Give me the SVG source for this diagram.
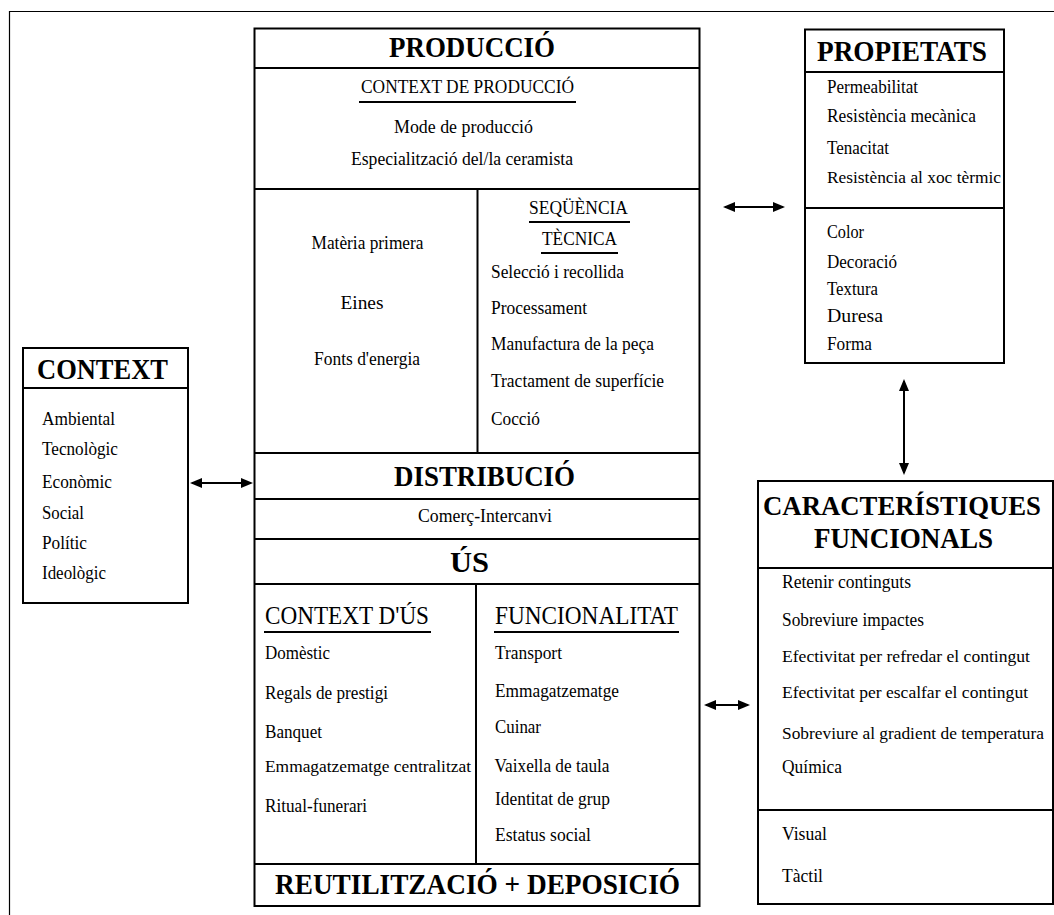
<svg xmlns="http://www.w3.org/2000/svg" width="1054" height="915" viewBox="0 0 1054 915">
<defs>
<style>
.box{fill:#fff;stroke:#000;stroke-width:2}
.ln{stroke:#000;stroke-width:2;fill:none}
.frame{stroke:#000;stroke-width:1.2;fill:none}
.h{font-family:"Liberation Serif","Times New Roman",serif;font-weight:bold;font-size:30px;fill:#000}
.t{font-family:"Liberation Serif","Times New Roman",serif;font-size:18.5px;fill:#000}
.n{font-family:"Liberation Serif","Times New Roman",serif;font-size:17.5px;fill:#000}
.s{font-family:"Liberation Serif","Times New Roman",serif;font-size:19px;fill:#000}
.m{font-family:"Liberation Serif","Times New Roman",serif;font-size:25px;fill:#000}
.conn{stroke:#000;stroke-width:2;fill:none;marker-start:url(#ah);marker-end:url(#ah)}
</style>
<marker id="ah" viewBox="0 0 12 10" refX="10" refY="5" markerWidth="12" markerHeight="10" markerUnits="userSpaceOnUse" orient="auto-start-reverse">
<path d="M0,0 L12,5 L0,10 z" fill="#000"/>
</marker>
</defs>
<rect width="1054" height="915" fill="#fff"/>
<path class="frame" d="M9.5,915 V11.5 H1054"/>

<g id="node-produccio">
<rect class="box" x="254.5" y="28.5" width="445" height="877.5"/>
<line class="ln" x1="254.5" y1="68" x2="699.5" y2="68"/>
<line class="ln" x1="254.5" y1="189" x2="699.5" y2="189"/>
<line class="ln" x1="477.5" y1="189" x2="477.5" y2="453"/>
<line class="ln" x1="254.5" y1="453" x2="699.5" y2="453"/>
<line class="ln" x1="254.5" y1="499" x2="699.5" y2="499"/>
<line class="ln" x1="254.5" y1="539" x2="699.5" y2="539"/>
<line class="ln" x1="254.5" y1="584" x2="699.5" y2="584"/>
<line class="ln" x1="476" y1="584" x2="476" y2="864"/>
<line class="ln" x1="254.5" y1="864" x2="699.5" y2="864"/>
<text class="h" x="389" y="57" textLength="166" lengthAdjust="spacingAndGlyphs">PRODUCCIÓ</text>
<text class="s" x="361" y="92.5" textLength="213" lengthAdjust="spacingAndGlyphs">CONTEXT DE PRODUCCIÓ</text>
<line class="ln" x1="359" y1="102" x2="576" y2="102"/>
<text class="t" x="394" y="132.5" textLength="139" lengthAdjust="spacingAndGlyphs">Mode de producció</text>
<text class="t" x="351" y="164.5" textLength="222" lengthAdjust="spacingAndGlyphs">Especialització del/la ceramista</text>
<text class="t" x="311.5" y="248.5" textLength="112" lengthAdjust="spacingAndGlyphs">Matèria primera</text>
<text class="t" x="340.5" y="309" textLength="43" lengthAdjust="spacingAndGlyphs">Eines</text>
<text class="t" x="314" y="365" textLength="106" lengthAdjust="spacingAndGlyphs">Fonts d'energia</text>
<text class="t" x="529" y="213.5" textLength="99" lengthAdjust="spacingAndGlyphs">SEQÜÈNCIA</text>
<line class="ln" x1="529" y1="222" x2="630" y2="222"/>
<text class="t" x="542" y="244.5" textLength="75" lengthAdjust="spacingAndGlyphs">TÈCNICA</text>
<line class="ln" x1="541" y1="253" x2="618" y2="253"/>
<text class="t" x="491" y="277.5" textLength="133" lengthAdjust="spacingAndGlyphs">Selecció i recollida</text>
<text class="t" x="491" y="313.5" textLength="96" lengthAdjust="spacingAndGlyphs">Processament</text>
<text class="t" x="491" y="350" textLength="163" lengthAdjust="spacingAndGlyphs">Manufactura de la peça</text>
<text class="t" x="491" y="386.5" textLength="173" lengthAdjust="spacingAndGlyphs">Tractament de superfície</text>
<text class="t" x="491" y="424.5" textLength="49" lengthAdjust="spacingAndGlyphs">Cocció</text>
<text class="h" x="394" y="486" textLength="181" lengthAdjust="spacingAndGlyphs">DISTRIBUCIÓ</text>
<text class="t" x="418" y="521.5" textLength="134" lengthAdjust="spacingAndGlyphs">Comerç-Intercanvi</text>
<text class="h" x="450" y="571.5" textLength="39" lengthAdjust="spacingAndGlyphs">ÚS</text>
<text class="m" x="265" y="623.5" textLength="164" lengthAdjust="spacingAndGlyphs">CONTEXT D'ÚS</text>
<line class="ln" x1="264" y1="632" x2="431" y2="632"/>
<text class="m" x="495" y="623.5" textLength="183" lengthAdjust="spacingAndGlyphs">FUNCIONALITAT</text>
<line class="ln" x1="494" y1="632" x2="679" y2="632"/>
<text class="t" x="265" y="658.5" textLength="65" lengthAdjust="spacingAndGlyphs">Domèstic</text>
<text class="t" x="265" y="699" textLength="123" lengthAdjust="spacingAndGlyphs">Regals de prestigi</text>
<text class="t" x="265" y="737.5" textLength="57" lengthAdjust="spacingAndGlyphs">Banquet</text>
<text class="n" x="265" y="771.5" textLength="206" lengthAdjust="spacingAndGlyphs">Emmagatzematge centralitzat</text>
<text class="t" x="265" y="811.5" textLength="102" lengthAdjust="spacingAndGlyphs">Ritual-funerari</text>
<text class="t" x="495" y="658.5" textLength="67" lengthAdjust="spacingAndGlyphs">Transport</text>
<text class="t" x="495" y="696.5" textLength="124" lengthAdjust="spacingAndGlyphs">Emmagatzematge</text>
<text class="t" x="495" y="732.5" textLength="46" lengthAdjust="spacingAndGlyphs">Cuinar</text>
<text class="t" x="494.5" y="771.5" textLength="115" lengthAdjust="spacingAndGlyphs">Vaixella de taula</text>
<text class="t" x="495" y="805" textLength="115" lengthAdjust="spacingAndGlyphs">Identitat de grup</text>
<text class="t" x="495" y="840.5" textLength="96" lengthAdjust="spacingAndGlyphs">Estatus social</text>
<text class="h" x="275" y="894" textLength="405" lengthAdjust="spacingAndGlyphs">REUTILITZACIÓ + DEPOSICIÓ</text>
</g>

<g id="node-propietats">
<rect class="box" x="805" y="29.5" width="199" height="333.5"/>
<line class="ln" x1="805" y1="72" x2="1004" y2="72"/>
<line class="ln" x1="805" y1="208" x2="1004" y2="208"/>
<text class="h" x="817" y="60.5" textLength="170" lengthAdjust="spacingAndGlyphs">PROPIETATS</text>
<text class="t" x="827" y="92.5" textLength="91" lengthAdjust="spacingAndGlyphs">Permeabilitat</text>
<text class="t" x="827" y="121.5" textLength="149" lengthAdjust="spacingAndGlyphs">Resistència mecànica</text>
<text class="t" x="827" y="154" textLength="62" lengthAdjust="spacingAndGlyphs">Tenacitat</text>
<text class="n" x="827" y="183" textLength="174" lengthAdjust="spacingAndGlyphs">Resistència al xoc tèrmic</text>
<text class="t" x="827" y="238" textLength="37" lengthAdjust="spacingAndGlyphs">Color</text>
<text class="t" x="827" y="268" textLength="70" lengthAdjust="spacingAndGlyphs">Decoració</text>
<text class="t" x="827" y="295" textLength="51" lengthAdjust="spacingAndGlyphs">Textura</text>
<text class="t" x="827" y="322" textLength="56" lengthAdjust="spacingAndGlyphs">Duresa</text>
<text class="t" x="827" y="349.5" textLength="45" lengthAdjust="spacingAndGlyphs">Forma</text>
</g>

<g id="node-context">
<rect class="box" x="23" y="348" width="165" height="255"/>
<line class="ln" x1="23" y1="388" x2="188" y2="388"/>
<text class="h" x="37" y="379" textLength="131" lengthAdjust="spacingAndGlyphs">CONTEXT</text>
<text class="t" x="42" y="425" textLength="73" lengthAdjust="spacingAndGlyphs">Ambiental</text>
<text class="t" x="42" y="455" textLength="76" lengthAdjust="spacingAndGlyphs">Tecnològic</text>
<text class="t" x="42" y="488" textLength="70" lengthAdjust="spacingAndGlyphs">Econòmic</text>
<text class="t" x="42" y="519" textLength="42" lengthAdjust="spacingAndGlyphs">Social</text>
<text class="t" x="42" y="549" textLength="45" lengthAdjust="spacingAndGlyphs">Polític</text>
<text class="t" x="42" y="579" textLength="64" lengthAdjust="spacingAndGlyphs">Ideològic</text>
</g>

<g id="node-caracteristiques">
<rect class="box" x="758" y="481" width="295" height="423"/>
<line class="ln" x1="758" y1="568" x2="1053" y2="568"/>
<line class="ln" x1="758" y1="810" x2="1053" y2="810"/>
<text class="h" x="763" y="515" style="font-size:27px" textLength="278" lengthAdjust="spacingAndGlyphs">CARACTERÍSTIQUES</text>
<text class="h" x="814" y="548" textLength="179" lengthAdjust="spacingAndGlyphs">FUNCIONALS</text>
<text class="t" x="782" y="588" textLength="129" lengthAdjust="spacingAndGlyphs">Retenir continguts</text>
<text class="t" x="782" y="625.5" textLength="142" lengthAdjust="spacingAndGlyphs">Sobreviure impactes</text>
<text class="n" x="782" y="662" textLength="248" lengthAdjust="spacingAndGlyphs">Efectivitat per refredar el contingut</text>
<text class="n" x="782" y="698" textLength="246" lengthAdjust="spacingAndGlyphs">Efectivitat per escalfar el contingut</text>
<text class="n" x="782" y="739" textLength="262" lengthAdjust="spacingAndGlyphs">Sobreviure al gradient de temperatura</text>
<text class="t" x="782" y="773" textLength="60" lengthAdjust="spacingAndGlyphs">Química</text>
<text class="t" x="782" y="840" textLength="45" lengthAdjust="spacingAndGlyphs">Visual</text>
<text class="t" x="782" y="881.5" textLength="41" lengthAdjust="spacingAndGlyphs">Tàctil</text>
</g>

<g id="connectors">
<line class="conn" x1="192" y1="483" x2="251" y2="483"/>
<line class="conn" x1="725" y1="207" x2="783" y2="207"/>
<line class="conn" x1="904" y1="381" x2="904" y2="473"/>
<line class="conn" x1="706" y1="705" x2="748" y2="705"/>
</g>
</svg>
